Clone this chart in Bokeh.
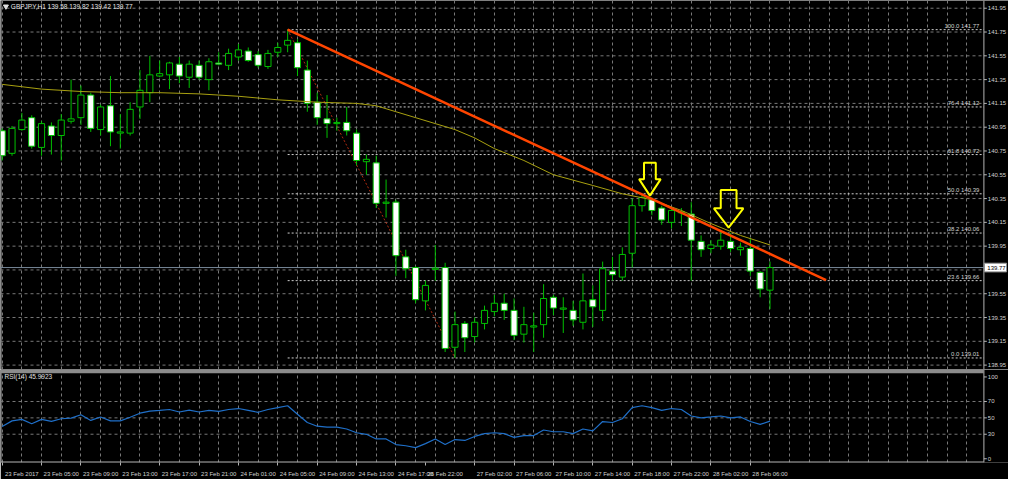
from bokeh.plotting import figure
from bokeh.layouts import column
from bokeh.models import Range1d, FixedTicker, BoxAnnotation, Span
from bokeh.core.properties import value
from bokeh.embed import file_html
from bokeh.resources import INLINE

# ---------------- data ----------------
title_text = "GBPJPY,H1 139.58 139.82 139.42 139.77"
rsi_title = "RSI(14) 45.9923"

opens = [140.92, 140.73, 140.93, 141.03, 140.78, 140.96, 140.88, 141.00, 141.03, 141.22,
         140.93, 141.13, 140.90, 140.90, 141.12, 141.24, 141.38, 141.39, 141.48, 141.37,
         141.47, 141.35, 141.49, 141.47, 141.54, 141.59, 141.56, 141.46, 141.58, 141.64,
         141.66, 141.43, 141.16, 141.02, 140.98, 140.99, 140.90, 140.66, 140.65, 140.31,
         140.32, 139.86, 139.77, 139.49, 139.755, 139.77, 139.10, 139.30, 139.19, 139.30,
         139.40, 139.47, 139.41, 139.21, 139.27, 139.29, 139.52, 139.42, 139.41, 139.31,
         139.50, 139.41, 139.74, 139.69, 139.89, 140.29, 140.34, 140.27, 140.15, 140.23,
         140.22, 139.99, 139.93, 139.95, 139.99, 139.92, 139.93, 139.73, 139.58]
highs = [140.94, 140.96, 141.07, 141.05, 141.00, 140.99, 141.06, 141.35, 141.30, 141.24,
         141.14, 141.38, 141.06, 141.16, 141.43, 141.55, 141.51, 141.50, 141.54, 141.51,
         141.51, 141.53, 141.58, 141.61, 141.65, 141.62, 141.59, 141.60, 141.66, 141.77,
         141.69, 141.51, 141.24, 141.22, 141.03, 141.12, 140.93, 140.72, 140.71, 140.51,
         140.34, 139.92, 139.78, 139.66, 139.96, 139.81, 139.40, 139.32, 139.35, 139.45,
         139.54, 139.55, 139.51, 139.44, 139.39, 139.63, 139.54, 139.52, 139.49, 139.72,
         139.62, 139.82, 139.86, 139.94, 140.35, 140.38, 140.36, 140.29, 140.28, 140.27,
         140.32, 140.04, 140.00, 140.08, 140.06, 139.98, 140.02, 139.74, 139.82]
lows = [140.67, 140.71, 140.92, 140.77, 140.71, 140.72, 140.67, 140.98, 140.97, 140.91,
        140.88, 140.79, 140.77, 140.88, 141.02, 141.16, 141.37, 141.27, 141.32, 141.28,
        141.35, 141.26, 141.47, 141.43, 141.51, 141.50, 141.45, 141.44, 141.54, 141.58,
        141.38, 141.08, 140.97, 140.86, 140.92, 140.88, 140.63, 140.55, 140.27, 140.19,
        139.70, 139.68, 139.47, 139.41, 139.66, 139.06, 139.01, 139.06, 139.14, 139.25,
        139.36, 139.33, 139.16, 139.14, 139.06, 139.18, 139.37, 139.22, 139.28, 139.25,
        139.27, 139.32, 139.66, 139.66, 139.77, 140.24, 140.21, 140.13, 140.10, 140.12,
        139.66, 139.86, 139.89, 139.92, 139.90, 139.87, 139.70, 139.52, 139.42]
closes = [140.71, 140.94, 141.01, 140.79, 140.98, 140.88, 141.01, 141.02, 141.22, 140.94,
          141.12, 140.91, 140.91, 141.10, 141.26, 141.39, 141.40, 141.49, 141.38, 141.48,
          141.37, 141.50, 141.48, 141.57, 141.60, 141.51, 141.47, 141.57, 141.62, 141.68,
          141.45, 141.15, 141.03, 140.98, 140.99, 140.92, 140.67, 140.68, 140.31, 140.32,
          139.87, 139.76, 139.50, 139.62, 139.765, 139.09, 139.29, 139.18, 139.31, 139.41,
          139.47, 139.41, 139.20, 139.29, 139.28, 139.51, 139.43, 139.43, 139.33, 139.49,
          139.44, 139.76, 139.71, 139.88, 140.29, 140.36, 140.25, 140.17, 140.25, 140.24,
          140.00, 139.92, 139.96, 140.00, 139.93, 139.94, 139.74, 139.59, 139.77]
bars = list(range(len(closes)))

rsi_vals = [39.4, 46.3, 48.1, 42.8, 48.1, 45.8, 48.9, 49.7, 53.8, 46.9,
            51.1, 46.3, 46.3, 50.8, 55.7, 58.3, 59.1, 60.2, 57.2, 59.4,
            57.2, 59.1, 58.0, 60.2, 61.4, 59.1, 56.8, 60.2, 62.5, 64.8,
            54.5, 44.3, 39.8, 38.6, 38.6, 36.4, 31.8, 29.9, 24.2, 24.2,
            17.4, 15.9, 13.6, 18.5, 24.2, 17.4, 23.5, 22.4, 27.3, 30.7,
            31.8, 30.7, 26.1, 28.4, 28.4, 35.2, 33.0, 33.0, 30.7, 36.4,
            34.1, 45.5, 44.3, 48.9, 62.5, 64.8, 62.5, 59.1, 61.4, 60.2,
            52.3, 50.0, 51.1, 52.3, 50.0, 51.1, 45.5, 42.0, 46.0]

ma_bars = [0, 4, 8, 12, 16, 20, 24, 28, 32, 36, 38, 40, 42, 44, 46, 48, 50, 53, 56,
           60, 63, 66, 69, 72, 75, 78]
ma_vals = [141.31, 141.27, 141.25, 141.24, 141.24, 141.23, 141.21, 141.18, 141.16, 141.15,
           141.13, 141.08, 141.03, 140.98, 140.93, 140.86, 140.77, 140.67, 140.55,
           140.46, 140.39, 140.34, 140.25, 140.14, 140.04, 139.96]

price_grid = [141.95, 141.75, 141.55, 141.35, 141.15, 140.95, 140.75, 140.55,
              140.35, 140.15, 139.95, 139.75, 139.55, 139.35, 139.15, 138.95]
price_ticks = [141.95, 141.75, 141.55, 141.35, 141.15, 140.95, 140.75, 140.55,
               140.35, 140.15, 139.95, 139.55, 139.35, 139.15, 138.95]
last_price = 139.77

time_ticks = [0, 4, 8, 12, 16, 20, 24, 28, 32, 36, 40, 43, 48, 52, 56, 60, 64, 68, 72, 76]
time_labels = ["23 Feb 2017", "23 Feb 05:00", "23 Feb 09:00", "23 Feb 13:00", "23 Feb 17:00",
               "23 Feb 21:00", "24 Feb 01:00", "24 Feb 05:00", "24 Feb 09:00", "24 Feb 13:00",
               "24 Feb 17:00", "26 Feb 22:00", "27 Feb 02:00", "27 Feb 06:00", "27 Feb 10:00",
               "27 Feb 14:00", "27 Feb 18:00", "27 Feb 22:00", "28 Feb 02:00", "28 Feb 06:00"]

fib_pct = ["100.0", "76.4", "61.8", "50.0", "38.2", "23.6", "0.0"]
fib_price = [141.77, 141.12, 140.72, 140.39, 140.06, 139.66, 139.01]
fib_from_bar = 29
fib_to_bar = 46

trend_bars = [29, 83.7]
trend_prices = [141.77, 139.665]

arrow_bars = [65.8, 73.8]
arrow_prices = [140.375, 140.105]

rsi_ticks = [0, 30, 50, 70, 100]
rsi_grid = [30, 50, 70]

# ---------------- styling / geometry ----------------
FONT = "Liberation Sans"
GREEN = "#00c000"
GRID = "#787878"
TXT = "#d0d0d0"
AXIS = "#b4b4b4"
X_START, X_FULL = -0.17, 102.23       # whole canvas width in bar units
X_AX = 99.73                           # price-scale line
P_LO, P_HI = 138.913, 142.015
R_LO, R_HI = -4.55, 109.1
PX_BAR, PX_PRICE, PX_RSI = 10.0, 123.0, 0.88   # reference pixel scales
arrow_dims = [(11, 17, 6, 17), (15, 20, 8, 19)]

xr = Range1d(X_START, X_FULL)


def price_scale(fig, ticks, labels, grid_vals, px_unit):
    """Grid, scale line, ticks and labels drawn inside the plotting area."""
    n = len(grid_vals)
    fig.segment(x0=[X_START] * n, y0=grid_vals, x1=[X_AX] * n, y1=grid_vals,
                line_color=GRID, line_dash="3 3", line_width=1)
    m = len(ticks)
    fig.segment(x0=[X_AX] * m, y0=ticks, x1=[X_AX + 0.3] * m, y1=ticks,
                line_color=AXIS, line_width=1)
    fig.text(x=[X_AX + 0.4] * m, y=ticks, text=labels, text_baseline="middle",
             text_align="left", text_font=value(FONT), text_font_size="6px",
             text_color=TXT)


def base_fig(height, y_lo, y_hi, bottom):
    f = figure(width=1008, height=height, x_range=xr, y_range=Range1d(y_lo, y_hi),
               x_axis_location=None if bottom == 0 else "below", y_axis_location=None,
               output_backend="svg", toolbar_location=None,
               background_fill_color="black", border_fill_color="black",
               outline_line_color=None,
               min_border_left=0, min_border_top=0, min_border_bottom=bottom,
               min_border_right=0)
    f.xgrid.ticker = FixedTicker(ticks=list(range(0, 99, 2)))
    f.xgrid.grid_line_color = GRID
    f.xgrid.grid_line_dash = "3 3"
    f.ygrid.grid_line_color = None
    # frame borders: left edge and price-scale line
    f.segment(x0=[X_START + 0.05, X_AX], y0=[y_lo, y_lo], x1=[X_START + 0.05, X_AX],
              y1=[y_hi, y_hi], line_color=AXIS, line_width=1)
    return f


# ---------------- main price panel ----------------
p = base_fig(369, P_LO, P_HI, 0)
price_scale(p, price_ticks, [f"{t:.2f}" for t in price_ticks], price_grid, PX_PRICE)

# fibonacci levels
n = len(fib_price)
p.segment(x0=[fib_from_bar] * n, y0=fib_price, x1=[X_AX] * n, y1=fib_price,
          line_color="#cfcfcf", line_dash="2 2", line_width=1)
p.text(x=[X_AX - 0.45] * n, y=fib_price,
       text=[f"{a} {b:.2f}" for a, b in zip(fib_pct, fib_price)],
       text_align="right", text_baseline="bottom", y_offset=-1,
       text_font=value(FONT), text_font_size="6px", text_color=TXT)
p.line(x=[fib_from_bar, fib_to_bar], y=[fib_price[0], fib_price[-1]],
       line_color="#b02a10", line_dash="2 2", line_width=1)

# current price line
p.segment(x0=[X_START], y0=[last_price], x1=[X_AX], y1=[last_price],
          line_color="#778899", line_width=1)

# candles
p.segment(x0=bars, y0=lows, x1=bars, y1=highs, line_color=GREEN, line_width=1)
bull = [i for i in bars if closes[i] >= opens[i]]
bear = [i for i in bars if closes[i] < opens[i]]
p.vbar(x=bull, width=0.62, top=[closes[i] for i in bull], bottom=[opens[i] for i in bull],
       fill_color="black", line_color=GREEN, line_width=1)
p.vbar(x=bear, width=0.62, top=[opens[i] for i in bear], bottom=[closes[i] for i in bear],
       fill_color="white", line_color=GREEN, line_width=1)

# moving average
p.line(x=ma_bars, y=ma_vals, line_color="#a8a010", line_width=1)

# trend line
p.line(x=trend_bars, y=trend_prices, line_color="#ff4500", line_width=2.5)

# arrows
axs, ays = [], []
for b, pr, (hw, hh, sw, sh) in zip(arrow_bars, arrow_prices, arrow_dims):
    dx = [0, hw, sw, sw, -sw, -sw, -hw]
    dy = [0, hh, hh, hh + sh, hh + sh, hh, hh]
    axs.append([b + d / PX_BAR for d in dx])
    ays.append([pr + d / PX_PRICE for d in dy])
p.patches(xs=axs, ys=ays, fill_alpha=0, line_color="#ffff00", line_width=2)

# title
p.scatter(x=[X_START + 0.55], y=[P_HI - 0.05], marker="inverted_triangle", size=5,
          fill_color="#e0e0e0", line_color="#e0e0e0")
p.text(x=[X_START + 1.05], y=[P_HI - 0.05], text=[title_text], text_baseline="middle",
       text_font=value(FONT), text_font_size="6.5px", text_color="#e6e6e6")

# current price tag on the scale
half = 4.5 / PX_PRICE
p.quad(left=[X_AX + 0.05], right=[X_AX + 2.3], bottom=[last_price - half],
       top=[last_price + half], fill_color="white", line_color="#909090", line_width=1)
p.text(x=[X_AX + 0.35], y=[last_price], text=[f"{last_price:.2f}"], text_baseline="middle",
       text_font=value(FONT), text_font_size="6px", text_color="black")

# ---------------- RSI panel ----------------
r = base_fig(110, R_LO, R_HI, 12)
price_scale(r, rsi_ticks, [str(t) for t in rsi_ticks], rsi_grid, PX_RSI)
r.add_layout(BoxAnnotation(bottom=104.5, top=R_HI, left=X_START, right=X_AX,
                           fill_color="#8c8c8c", fill_alpha=1, line_alpha=0))
r.segment(x0=[X_START], y0=[R_LO + 0.6], x1=[X_AX], y1=[R_LO + 0.6],
          line_color=AXIS, line_width=1)
r.line(x=bars, y=rsi_vals, line_color="#1f6fc8", line_width=1.2)
r.text(x=[X_START + 0.4], y=[100], text=[rsi_title], text_baseline="middle",
       text_font=value(FONT), text_font_size="6.5px", text_color="#e0e0e0")

rx = r.xaxis[0]
label_centers = [t + 2 for t in time_ticks]
rx.ticker = FixedTicker(ticks=label_centers, minor_ticks=time_ticks)
rx.major_label_overrides = {c: lab for c, lab in zip(label_centers, time_labels)}
rx.major_tick_line_color = None
rx.minor_tick_out = 3
rx.minor_tick_in = 0
rx.minor_tick_line_color = AXIS
rx.major_label_standoff = 2
rx.major_label_text_font = FONT
rx.major_label_text_font_size = "6px"
rx.major_label_text_color = TXT
rx.axis_line_color = None

layout = column(p, r)
open("out.html", "w").write(file_html(layout, INLINE))
